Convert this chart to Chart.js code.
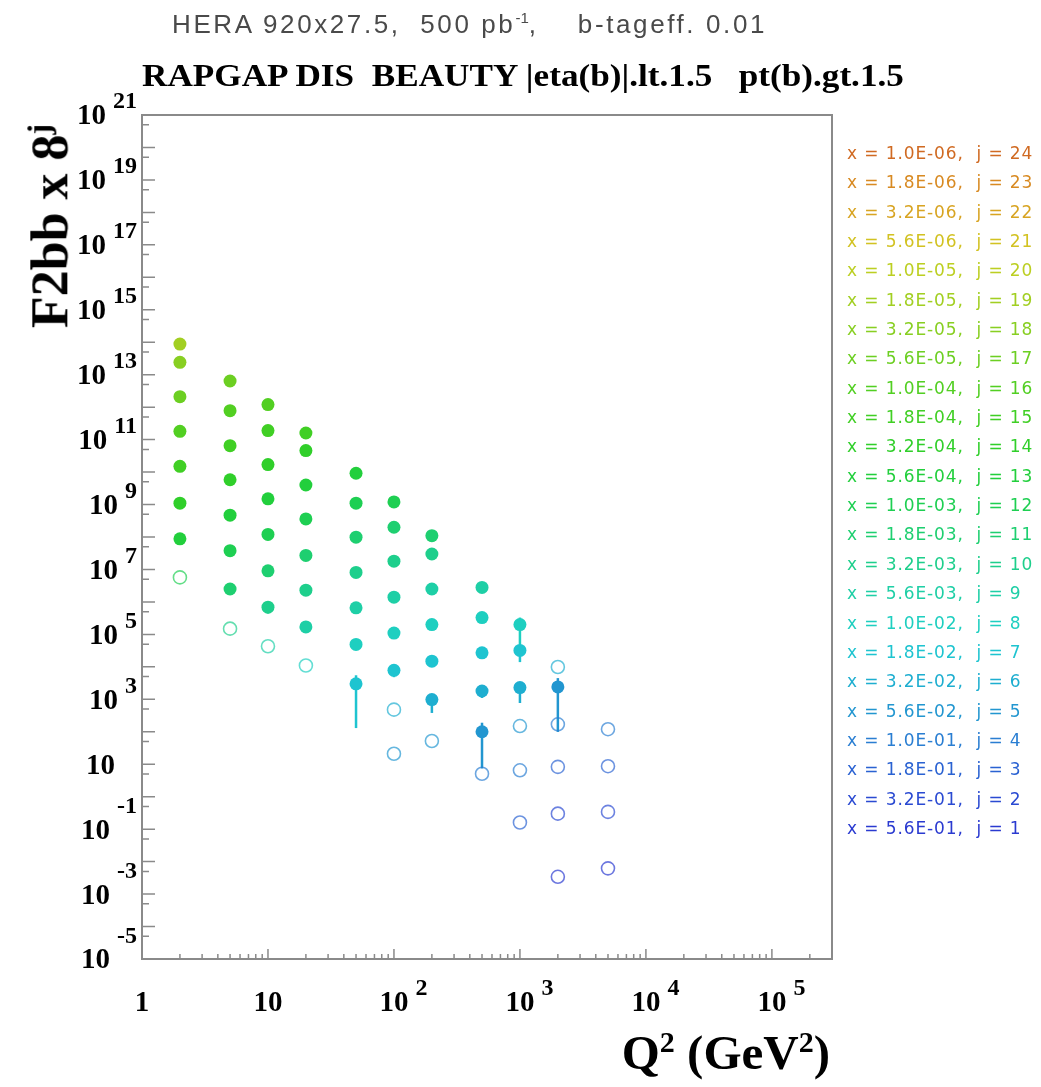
<!DOCTYPE html>
<html>
<head>
<meta charset="utf-8">
<script src="https://cdn.jsdelivr.net/npm/chart.js@4.4.0/dist/chart.umd.min.js"></script>
<style>
  body { margin: 0; background: #fff; }
  #wrap { position: relative; width: 1041px; height: 1087px; overflow: hidden; }
  canvas { position: absolute; left: 0; top: 0; }
  .t1 { position: absolute; left: 172px; top: 9px; font: 26px "Liberation Sans", sans-serif; color: #4a4a4a; white-space: pre; letter-spacing: 2.6px; }
  .t1 sup { font-size: 15px; letter-spacing: 0; }
  .t2 { position: absolute; left: 142px; top: 58px; font: bold 31px "Liberation Serif", serif; color: #000; white-space: pre; transform: scaleX(1.135); transform-origin: left center; }
  .ytitle { position: absolute; left: 50px; top: 226px; transform: translate(-50%, -50%) rotate(-90deg); font: bold 52px "Liberation Serif", serif; white-space: pre; }
  .ytitle sup { font-size: 32px; }
  .xtitle { position: absolute; right: 211px; top: 1024px; font: bold 49px "Liberation Serif", serif; white-space: pre; }
  .xtitle sup { font-size: 30px; }
  #legend { position: absolute; left: 847px; top: 139px; font: 17px "DejaVu Sans", sans-serif; letter-spacing: 0.9px; line-height: 29.35px; white-space: pre; }
</style>
</head>
<body>
<div id="wrap">
  <canvas id="chart" width="1041" height="1087"></canvas>
  <div class="t1">HERA 920x27.5,  500 pb<sup>-1</sup>,    b-tageff. 0.01</div>
  <div class="t2">RAPGAP DIS  BEAUTY |eta(b)|.lt.1.5   pt(b).gt.1.5</div>
  <div class="ytitle">F2bb x 8<sup>j</sup></div>
  <div class="xtitle">Q<sup>2</sup> (GeV<sup>2</sup>)</div>
  <div id="legend"></div>
</div>
<script>
// ===== dados =====
const q2Bins = [2, 5, 10, 20, 50, 100, 200, 500, 1000, 2000, 5000];
// j do ponto mais alto de cada coluna (desce de 1 em 1)
const topJ = [19, 17, 16, 15, 13, 12, 11, 9, 8, 6, 4];

const f2_q2_2    = [8.8e13, 2.4e13, 2.1e12, 1.8e11, 1.5e10, 1.1e9, 8.8e7, 5.7e6];
const f2_q2_5    = [6.4e12, 7.8e11, 6.5e10, 5.8e9, 4.7e8, 3.8e7, 2.5e6, 1.5e5];
const f2_q2_10   = [1.2e12, 1.9e11, 1.7e10, 1.5e9, 1.2e8, 9.1e6, 6.9e5, 4.3e4];
const f2_q2_20   = [1.6e11, 4.6e10, 4.0e9, 3.6e8, 2.7e7, 2.3e6, 1.7e5, 1.1e4];
const f2_q2_50   = [9.2e9, 1.1e9, 9.9e7, 8.1e6, 6.6e5, 4.9e4, 3.0e3];
const f2_q2_100  = [1.2e9, 2.0e8, 1.8e7, 1.4e6, 1.1e5, 7.8e3, 4.8e2, 21];
const f2_q2_200  = [1.1e8, 3.0e7, 2.5e6, 2.0e5, 1.5e4, 9.8e2, 52];
const f2_q2_500  = [2.8e6, 3.3e5, 2.7e4, 1.8e3, 1.0e2, 5.1];
const f2_q2_1000 = [2.0e5, 3.2e4, 2.3e3, 1.5e2, 6.5, 0.16];
const f2_q2_2000 = [9.9e3, 2.4e3, 1.7e2, 8.3, 0.30, 3.4e-3];
const f2_q2_5000 = [1.2e2, 8.7, 0.34, 6.2e-3];

// F = ponto cheio, O = circulo aberto
const markerKinds = ['FFFFFFFO', 'FFFFFFFO', 'FFFFFFFO', 'FFFFFFFO', 'FFFFFFF', 'FFFFFFOO',
                     'FFFFFFO', 'FFFFFO', 'FFFOOO', 'OFOOOO', 'OOOO'];

// barras de erro
const errQ2 = [5, 10, 50, 100, 200, 500, 500, 1000, 1000, 1000, 2000];
const errJ  = [11, 10, 7, 7, 6, 6, 5, 8, 7, 6, 5];
const errLo = [1.8e6, 4.4e5, 1.3e2, 4.8e3, 3.8e2, 1.1e3, 7.4, 3.4e4, 1.4e4, 7.7e2, 99];
const errHi = [2.5e6, 6.9e5, 5.5e3, 7.8e3, 9.8e2, 1.8e3, 1.9e2, 3.3e5, 3.2e4, 2.3e3, 4.5e3];

// legenda
const legendX = ['1.0E-06', '1.8E-06', '3.2E-06', '5.6E-06', '1.0E-05', '1.8E-05', '3.2E-05', '5.6E-05',
                 '1.0E-04', '1.8E-04', '3.2E-04', '5.6E-04', '1.0E-03', '1.8E-03', '3.2E-03', '5.6E-03',
                 '1.0E-02', '1.8E-02', '3.2E-02', '5.6E-02', '1.0E-01', '1.8E-01', '3.2E-01', '5.6E-01'];
const legendJ = [24, 23, 22, 21, 20, 19, 18, 17, 16, 15, 14, 13, 12, 11, 10, 9, 8, 7, 6, 5, 4, 3, 2, 1];

// cor por j (indice j-1)
const jColors = ['#2a3ad0', '#2a4ad2', '#2a62d2', '#2a7ed2', '#2296d0', '#1eaed0', '#1ec4d0', '#1ecfc0',
                 '#1ecfa6', '#1ecf8c', '#1ecf70', '#1ecf52', '#22cf3c', '#30cf2a', '#40cf24', '#52cf22',
                 '#6ccf22', '#88cf22', '#a2cf22', '#bccf22', '#d2c222', '#d8a422', '#d88a22', '#d06a22'];

// rotulos dos eixos (expoentes de 10)
const yLabelExps = [-5, -3, -1, 1, 3, 5, 7, 9, 11, 13, 15, 17, 19, 21];
const xLabelExps = [0, 1, 2, 3, 4, 5];

// ===== legenda =====
document.getElementById('legend').innerHTML = legendX.map((xv, i) => {
    const j = legendJ[i];
    return `<div style="color:${jColors[j - 1]}">x = ${xv},  j = ${j}</div>`;
}).join('');

// ===== datasets =====
const columns = [f2_q2_2, f2_q2_5, f2_q2_10, f2_q2_20, f2_q2_50, f2_q2_100,
                 f2_q2_200, f2_q2_500, f2_q2_1000, f2_q2_2000, f2_q2_5000];

const datasets = columns.map((vals, c) => {
    const kinds = markerKinds[c];
    const cores = vals.map((v, i) => jColors[topJ[c] - i - 1]);
    return {
        data: vals.map(v => ({ x: q2Bins[c], y: v })),
        showLine: false,
        pointRadius: 6.5,
        pointHoverRadius: 6.5,
        pointBackgroundColor: cores.map((cor, i) => kinds[i] === 'F' ? cor : 'rgba(0,0,0,0)'),
        pointBorderColor: cores.map((cor, i) => kinds[i] === 'F' ? cor : cor + 'b0'),
        pointBorderWidth: cores.map((cor, i) => kinds[i] === 'F' ? 0 : 1.6),
    };
});

// ===== plugins =====
const errorBars = {
    id: 'errorBars',
    beforeDatasetsDraw(chart) {
        const { ctx, scales: { x, y } } = chart;
        ctx.save();
        ctx.lineWidth = 2.5;
        errQ2.forEach((q, i) => {
            const px = x.getPixelForValue(q);
            ctx.strokeStyle = jColors[errJ[i] - 1];
            ctx.beginPath();
            ctx.moveTo(px, y.getPixelForValue(errLo[i]));
            ctx.lineTo(px, y.getPixelForValue(errHi[i]));
            ctx.stroke();
        });
        ctx.restore();
    }
};

function potencia(ctx, exp, bx, by, alinhar) {
    ctx.textBaseline = 'middle';
    const base = exp === 0 ? '1' : '10';
    if (exp === 0 || exp === 1) {
        ctx.font = 'bold 29px "Liberation Serif", serif';
        ctx.textAlign = alinhar;
        ctx.fillText(base, alinhar === 'right' ? bx - 22 : bx, by);
        return;
    }
    const e = String(exp);
    ctx.font = 'bold 24px "Liberation Serif", serif';
    const we = ctx.measureText(e).width;
    ctx.font = 'bold 29px "Liberation Serif", serif';
    const wb = ctx.measureText(base).width;
    const gap = 7;
    let x0;
    if (alinhar === 'right') x0 = bx - we - gap - wb;
    else x0 = bx - wb / 2;
    ctx.textAlign = 'left';
    ctx.fillText(base, x0, by);
    ctx.font = 'bold 24px "Liberation Serif", serif';
    ctx.fillText(e, x0 + wb + gap, by - (exp < 0 ? 24 : 15));
}

const rootAxes = {
    id: 'rootAxes',
    afterDraw(chart) {
        const { ctx, chartArea: a, scales: { x, y } } = chart;
        ctx.save();
        ctx.strokeStyle = '#8a8a8a';
        ctx.lineWidth = 1.5;
        ctx.beginPath();
        // ticks eixo y (para dentro)
        for (let n = yLabelExps[0]; n <= yLabelExps[yLabelExps.length - 1]; n++) {
            const py = y.getPixelForValue(Math.pow(10, n));
            ctx.moveTo(a.left, py); ctx.lineTo(a.left + 13, py);
            const p5 = y.getPixelForValue(5 * Math.pow(10, n - 1));
            if (p5 <= a.bottom) { ctx.moveTo(a.left, p5); ctx.lineTo(a.left + 7, p5); }
        }
        // ticks eixo x
        for (let n = 0; n <= 5; n++) {
            for (let m = 1; m <= 9; m++) {
                const v = m * Math.pow(10, n);
                if (v > x.max) break;
                const px = x.getPixelForValue(v);
                const len = m === 1 ? 10 : 5;
                ctx.moveTo(px, a.bottom); ctx.lineTo(px, a.bottom - len);
            }
        }
        ctx.stroke();
        // moldura
        ctx.lineWidth = 2;
        ctx.strokeRect(a.left, a.top, a.right - a.left, a.bottom - a.top);

        ctx.fillStyle = '#000';
        yLabelExps.forEach(n => potencia(ctx, n, a.left - 5, y.getPixelForValue(Math.pow(10, n)) + 2, 'right'));
        xLabelExps.forEach(n => potencia(ctx, n, x.getPixelForValue(Math.pow(10, n)), a.bottom + 45, 'center'));
        ctx.restore();
    }
};

new Chart(document.getElementById('chart'), {
    type: 'scatter',
    data: { datasets },
    options: {
        responsive: false,
        animation: false,
        events: [],
        layout: { padding: { left: 142, top: 115, right: 209, bottom: 128 } },
        plugins: { legend: { display: false }, tooltip: { enabled: false } },
        scales: {
            x: { type: 'logarithmic', min: 1, max: 3e5, display: false },
            y: { type: 'logarithmic', min: 1e-5, max: 1e21, display: false }
        }
    },
    plugins: [errorBars, rootAxes]
});
</script>
</body>
</html>
